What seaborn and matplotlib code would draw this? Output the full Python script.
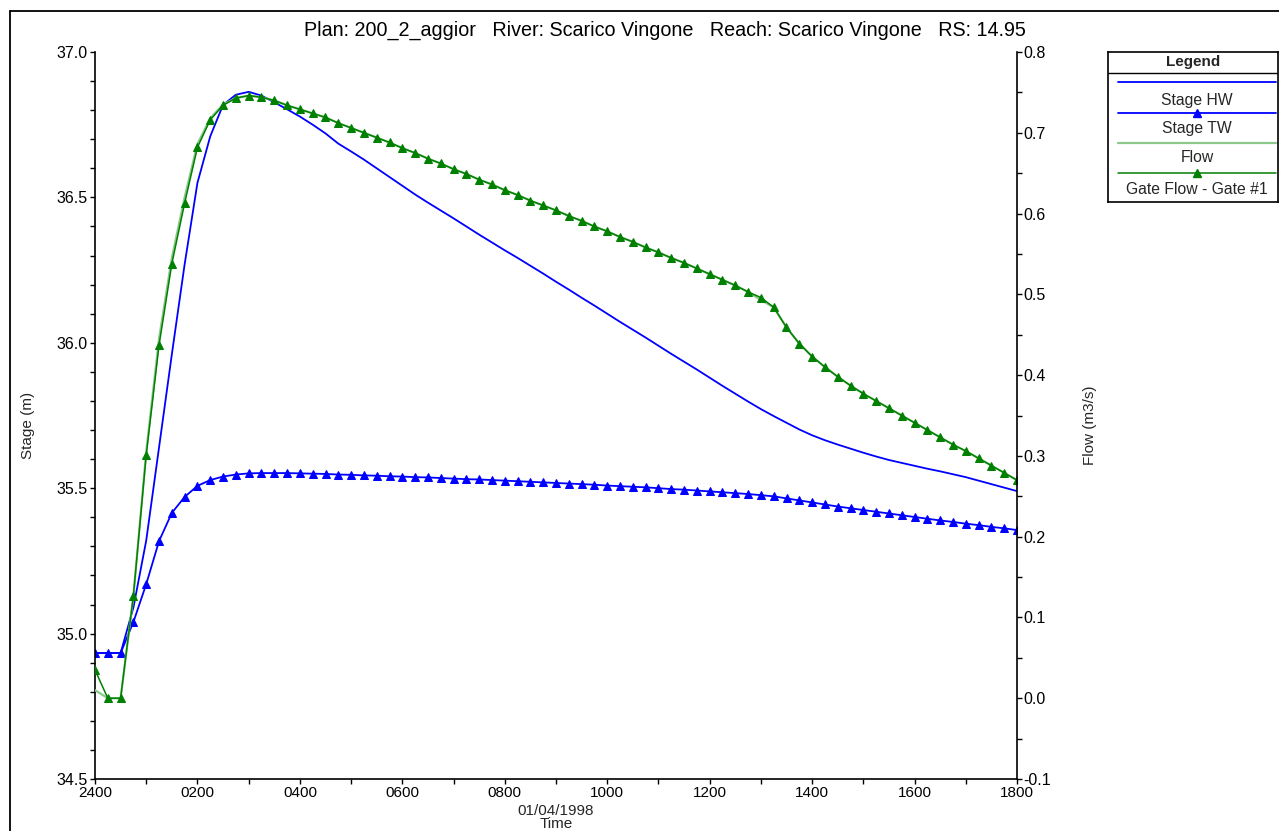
import numpy as np
import pandas as pd
import matplotlib
matplotlib.use("Agg")
import matplotlib.pyplot as plt
import seaborn as sns
from matplotlib.lines import Line2D
from matplotlib.ticker import MultipleLocator, FixedLocator, FormatStrFormatter

# Time base: hours after midnight on 01/04/1998, 15-minute output interval
hours = np.arange(0, 18.0001, 0.25)

stage_hw = [
    34.933, 34.933, 34.933, 35.090, 35.320, 35.640, 35.960, 36.270, 36.550, 36.710,
    36.818, 36.853, 36.863, 36.850, 36.827, 36.803, 36.778, 36.750, 36.720, 36.685,
    36.658, 36.630, 36.600, 36.570, 36.540, 36.510, 36.482, 36.455, 36.428, 36.400,
    36.372, 36.345, 36.318, 36.292, 36.265, 36.238, 36.210, 36.183, 36.155, 36.128,
    36.100, 36.072, 36.045, 36.018, 35.990, 35.962, 35.935, 35.908, 35.880, 35.852,
    35.825, 35.798, 35.772, 35.748, 35.725, 35.702, 35.682, 35.665, 35.650, 35.636,
    35.622, 35.609, 35.597, 35.587, 35.577, 35.567, 35.558, 35.548, 35.538, 35.526,
    35.514, 35.502, 35.490,
]

stage_tw = [
    34.933, 34.933, 34.933, 35.040, 35.170, 35.318, 35.415, 35.470, 35.508, 35.528,
    35.540, 35.547, 35.551, 35.552, 35.552, 35.552, 35.551, 35.550, 35.549, 35.547,
    35.546, 35.544, 35.543, 35.541, 35.540, 35.538, 35.537, 35.535, 35.533, 35.531,
    35.530, 35.528, 35.526, 35.524, 35.522, 35.520, 35.518, 35.516, 35.514, 35.512,
    35.509, 35.507, 35.505, 35.503, 35.500, 35.497, 35.495, 35.492, 35.489, 35.486,
    35.483, 35.480, 35.476, 35.472, 35.465, 35.458, 35.451, 35.444, 35.437, 35.431,
    35.425, 35.419, 35.413, 35.407, 35.401, 35.395, 35.389, 35.384, 35.378, 35.373,
    35.367, 35.362, 35.356,
]

flow = [
    0.010, 0.000, 0.000, 0.127, 0.305, 0.445, 0.545, 0.620, 0.686, 0.718,
    0.735, 0.743, 0.746, 0.744, 0.740, 0.734, 0.729, 0.724, 0.719, 0.712,
    0.706, 0.700, 0.694, 0.688, 0.681, 0.675, 0.668, 0.662, 0.655, 0.649,
    0.642, 0.636, 0.629, 0.623, 0.616, 0.610, 0.604, 0.597, 0.591, 0.584,
    0.578, 0.571, 0.565, 0.558, 0.552, 0.545, 0.539, 0.532, 0.525, 0.518,
    0.511, 0.503, 0.493, 0.484, 0.459, 0.439, 0.423, 0.410, 0.398, 0.387,
    0.377, 0.368, 0.359, 0.350, 0.341, 0.332, 0.323, 0.314, 0.306, 0.297,
    0.288, 0.279, 0.270,
]

gate_flow = [
    0.035, 0.000, 0.000, 0.127, 0.301, 0.437, 0.538, 0.613, 0.682, 0.716,
    0.734, 0.743, 0.746, 0.744, 0.740, 0.734, 0.729, 0.724, 0.719, 0.712,
    0.706, 0.700, 0.694, 0.688, 0.681, 0.675, 0.668, 0.662, 0.655, 0.649,
    0.642, 0.636, 0.629, 0.623, 0.616, 0.610, 0.604, 0.597, 0.591, 0.584,
    0.578, 0.571, 0.565, 0.558, 0.552, 0.545, 0.539, 0.532, 0.525, 0.518,
    0.511, 0.503, 0.496, 0.484, 0.459, 0.439, 0.423, 0.410, 0.398, 0.387,
    0.377, 0.368, 0.359, 0.350, 0.341, 0.332, 0.323, 0.314, 0.306, 0.297,
    0.288, 0.279, 0.270,
]

x_tick_pos = [0, 2, 4, 6, 8, 10, 12, 14, 16, 18]
x_tick_labels = ["2400", "0200", "0400", "0600", "0800", "1000", "1200", "1400", "1600", "1800"]

title = "Plan: 200_2_aggior   River: Scarico Vingone   Reach: Scarico Vingone   RS: 14.95"

df = pd.DataFrame({
    "hours": hours,
    "stage_hw": stage_hw,
    "stage_tw": stage_tw,
    "flow": flow,
    "gate_flow": gate_flow,
})

sns.set_theme(style="ticks")
plt.rcParams["font.family"] = ["Liberation Sans", "DejaVu Sans"]

W, H = 1279, 831
fig = plt.figure(figsize=(W / 100, H / 100), dpi=100)
fig.patch.set_facecolor("white")

def fx(px):
    return px / W

def fy(py):
    return 1 - py / H

ax = fig.add_axes([fx(95), fy(779), (1017 - 95) / W, (779 - 52) / H])
ax.set_facecolor("white")
ax2 = ax.twinx()

BLUE = "#0000ff"
GREEN = "#008000"
LIGHT_GREEN = "#8cc88c"

# Stage series on the left axis
sns.lineplot(data=df, x="hours", y="stage_hw", ax=ax, color=BLUE, linewidth=1.3)
sns.lineplot(data=df, x="hours", y="stage_tw", ax=ax, color=BLUE, linewidth=1.3,
             marker="^", markersize=6, markeredgecolor=BLUE, markerfacecolor=BLUE)

# Flow series on the right axis
sns.lineplot(data=df, x="hours", y="flow", ax=ax2, color=LIGHT_GREEN, linewidth=1.6)
sns.lineplot(data=df, x="hours", y="gate_flow", ax=ax2, color=GREEN, linewidth=1.1,
             marker="^", markersize=6, markeredgecolor=GREEN, markerfacecolor=GREEN)

ax.set_xlim(0, 18)
ax.set_ylim(34.5, 37.0)
ax2.set_ylim(-0.1, 0.8)

ax.xaxis.set_major_locator(FixedLocator(x_tick_pos))
ax.set_xticklabels(x_tick_labels)
ax.xaxis.set_minor_locator(MultipleLocator(1))
ax.yaxis.set_major_locator(MultipleLocator(0.5))
ax.yaxis.set_minor_locator(MultipleLocator(0.1))
ax.yaxis.set_major_formatter(FormatStrFormatter("%.1f"))
ax2.yaxis.set_major_locator(MultipleLocator(0.1))
ax2.yaxis.set_minor_locator(MultipleLocator(0.05))
ax2.yaxis.set_major_formatter(FormatStrFormatter("%.1f"))

ax.set_xlabel("")
ax.set_ylabel("")
ax2.set_ylabel("")

for a in (ax, ax2):
    for s in a.spines.values():
        s.set_color("black")
        s.set_linewidth(1.2)
    a.spines["top"].set_visible(False)
    a.grid(False)
ax.spines["right"].set_visible(False)
ax2.spines["left"].set_visible(False)
ax2.spines["bottom"].set_visible(False)

TICK_FS = 11.5
ax.tick_params(axis="both", which="both", direction="out", length=3.5, width=1.0,
               color="black", labelsize=TICK_FS, labelcolor="black")
ax.tick_params(axis="y", which="both", pad=1.5)
ax.tick_params(axis="x", which="both", pad=1.5, labelsize=11)
ax2.tick_params(axis="y", which="both", direction="out", length=3.5, width=1.0,
                color="black", labelsize=TICK_FS, labelcolor="black", pad=1.0)

# Titles and axis captions
fig.text(fx(665), fy(30), title, ha="center", va="center", fontsize=14.2, color="black")
fig.text(fx(28), fy(425), "Stage (m)", rotation=90, ha="center", va="center", fontsize=11)
fig.text(fx(1090), fy(425), "Flow (m3/s)", rotation=90, ha="center", va="center", fontsize=11)
fig.text(fx(556), fy(811), "01/04/1998", ha="center", va="center", fontsize=11)
fig.text(fx(556), fy(824), "Time", ha="center", va="center", fontsize=11)

# Outer frame
fig.add_artist(Line2D([fx(10), fx(10)], [0, fy(11)], transform=fig.transFigure,
                      color="black", linewidth=1.3))
fig.add_artist(Line2D([fx(10), 1.0], [fy(11), fy(11)], transform=fig.transFigure,
                      color="black", linewidth=1.3))

# Legend panel
leg = fig.add_axes([fx(1108), fy(202), (1278 - 1108) / W, (202 - 52) / H])
leg.set_xlim(1108, 1278)
leg.set_ylim(202, 52)
leg.set_xticks([])
leg.set_yticks([])
leg.set_facecolor("white")
for s in leg.spines.values():
    s.set_visible(True)
    s.set_color("black")
    s.set_linewidth(1.2)
leg.axhline(73, color="black", linewidth=1.0)
leg.text(1193, 62, "Legend", ha="center", va="center", fontsize=11, fontweight="bold")

entries = [
    ("Stage HW", BLUE, None, 1.3, 82, 100),
    ("Stage TW", BLUE, "^", 1.3, 113, 129),
    ("Flow", LIGHT_GREEN, None, 1.6, 143, 158),
    ("Gate Flow - Gate #1", GREEN, "^", 1.1, 173, 190),
]
for label, col, mk, lw, ly, ty in entries:
    leg.plot([1118, 1276], [ly, ly], color=col, linewidth=lw)
    if mk:
        leg.plot([1197], [ly], marker=mk, color=col, markersize=6)
    leg.text(1197, ty, label, ha="center", va="center", fontsize=11.3)

fig.savefig("out.png", dpi=100, facecolor="white")
